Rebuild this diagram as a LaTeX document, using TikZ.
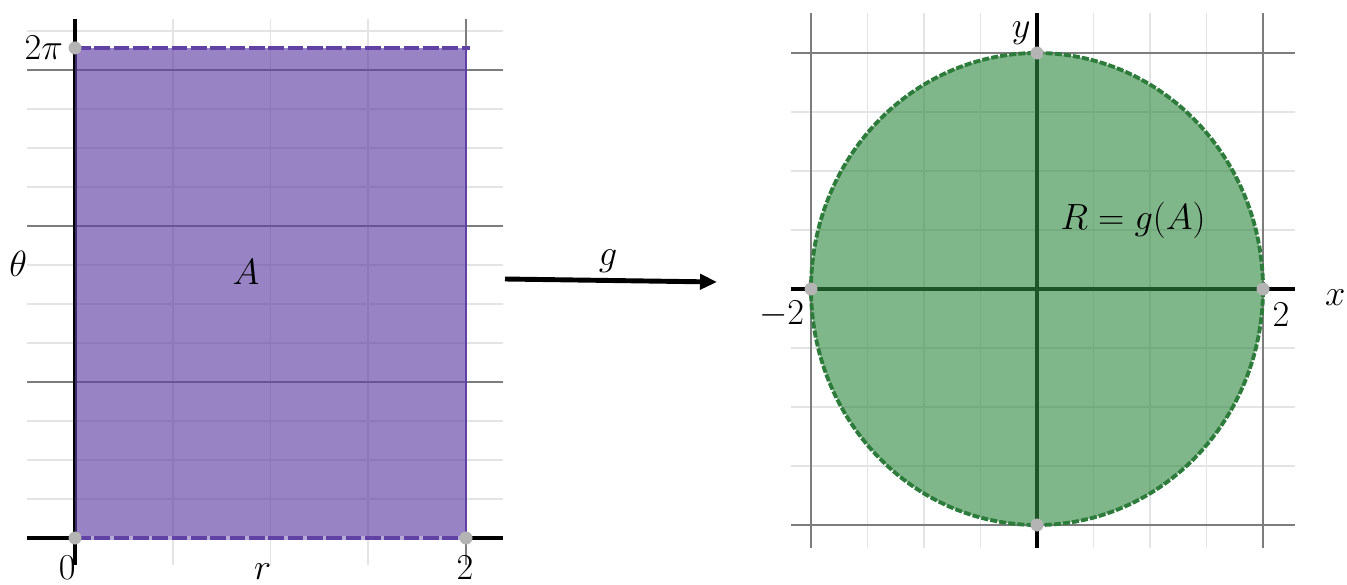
\documentclass[tikz,border=0pt]{standalone}
\usepackage{amsmath}
\usetikzlibrary{arrows.meta}
\definecolor{areapurple}{RGB}{97,66,164}
\definecolor{regiongreen}{RGB}{50,138,66}
\definecolor{minorgrid}{RGB}{228,228,228}
\definecolor{majorgrid}{RGB}{125,125,125}
\definecolor{dotgray}{RGB}{180,180,180}
\begin{document}
\begin{tikzpicture}[
  minorline/.style={minorgrid, line width=1.1pt},
  majorline/.style={majorgrid, line width=1pt},
  axisline/.style={black, line width=1.9pt},
  pointdot/.style={circle, fill=dotgray, inner sep=0pt, minimum size=0.26cm},
  lbl/.style={font=\fontsize{21}{25}\selectfont, inner sep=0pt}
]
\useasboundingbox (0,0) rectangle (26.94,11.68);
% Left panel: rectangle A in the (r,theta) plane
\begin{scope}[shift={(1.50,0.92)}, x=3.91cm, y=1.56cm]
% Draw grid
\foreach \t in {0.5,1,...,6.5} \draw[minorline] (-0.246,\t) -- (2.189,\t);
\foreach \r in {0.5,1,1.5} \draw[minorline] (\r,-0.346) -- (\r,6.654);
\foreach \t in {2,4,6} \draw[majorline] (-0.246,\t) -- (2.189,\t);
\draw[majorline] (2,-0.346) -- (2,6.654);
% Draw axes
\draw[axisline] (0,-0.346) -- (0,6.654);
\draw[axisline] (-0.246,0) -- (2.189,0);
% Draw filled rectangle with dashed top and bottom
\fill[areapurple, fill opacity=0.65] (0,0) rectangle (2,{2*pi});
\draw[areapurple, line width=1pt] (2,0) -- (2,{2*pi});
\draw[areapurple!45, line width=2.6pt] (0,0) -- (2,0);
\draw[areapurple, line width=2.6pt, dash pattern=on 9pt off 2pt] (0,{2*pi}) -- (2.02,{2*pi});
\draw[areapurple, line width=2.6pt, dash pattern=on 9pt off 2pt] (0,0) -- (2,0);
% Corner points
\node[pointdot] (top) at (0,{2*pi}) {};
\node[pointdot] (origin) at (0,0) {};
\node[pointdot] (rtwo) at (2,0) {};
% Labels
\node[lbl] (twopi) at (-0.16,{2*pi}) {$2\pi$};
\node[lbl] (theta) at (-0.29,3.51) {$\theta$};
\node[lbl] (areaA) at (0.875,3.41) {$A$};
\node[lbl] (zero) at (-0.04,-0.38) {$0$};
\node[lbl] (rlabel) at (0.96,-0.43) {$r$};
\node[lbl] (two) at (1.995,-0.38) {$2$};
\end{scope}
% Mapping arrow g
\coordinate (gstart) at (10.10,6.10);
\coordinate (gend) at (14.34,6.04);
\draw[line width=2.8pt, -{Triangle[length=0.34cm, width=0.3cm]}] (gstart) -- (gend);
\node[lbl] (gmap) at (12.16,6.46) {$g$};
% Right panel: disc R in the (x,y) plane
\begin{scope}[shift={(20.74,5.90)}, x=2.26cm, y=2.36cm]
% Draw grid
\foreach \v in {-1.5,-1,-0.5,0.5,1,1.5} {
  \draw[minorline] (-2.177,\v) -- (2.283,\v);
  \draw[minorline] (\v,-2.195) -- (\v,2.339);
}
\foreach \v in {-2,2} {
  \draw[majorline] (-2.177,\v) -- (2.283,\v);
  \draw[majorline] (\v,-2.195) -- (\v,2.339);
}
% Draw axes
\draw[axisline] (-2.177,0) -- (2.283,0);
\draw[axisline] (0,-2.195) -- (0,2.339);
% Draw filled disc with dashed boundary
\fill[regiongreen, fill opacity=0.62] (0,0) ellipse [x radius=4.52cm, y radius=4.72cm];
\draw[regiongreen!90!black, line width=2.2pt, dash pattern=on 4pt off 1.2pt] (0,0) ellipse [x radius=4.52cm, y radius=4.72cm];
% Points on the circle
\node[pointdot] (east) at (2,0) {};
\node[pointdot] (west) at (-2,0) {};
\node[pointdot] (north) at (0,2) {};
\node[pointdot] (south) at (0,-2) {};
% Labels
\node[lbl] (ylabel) at (-0.14,2.17) {$y$};
\node[lbl] (xlabel) at (2.64,-0.07) {$x$};
\node[lbl] (mtwo) at (-2.26,-0.21) {$-2$};
\node[lbl] (ptwo) at (2.16,-0.22) {$2$};
\node[lbl] (region) at (0.85,0.58) {$R = g(A)$};
\end{scope}
\end{tikzpicture}
\end{document}
